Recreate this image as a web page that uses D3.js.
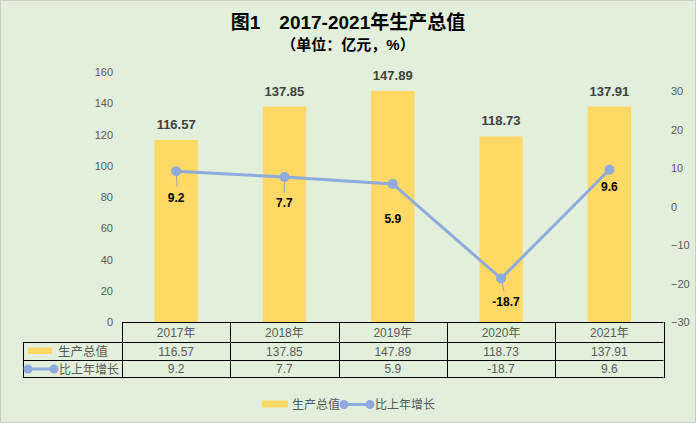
<!DOCTYPE html>
<html>
<head>
<meta charset="utf-8">
<script src="https://cdn.jsdelivr.net/npm/d3@7/dist/d3.min.js"></script>
<style>
  html, body { margin: 0; padding: 0; background: #e2efda; }
  svg { display: block; }
  text { font-family: "Liberation Sans", "Noto Sans CJK SC", sans-serif; }
</style>
</head>
<body>
<svg id="chart" width="696" height="423"></svg>
<script>
// data
var years = [ "2017年", "2018年", "2019年", "2020年", "2021年" ];
var output = [ 116.57, 137.85, 147.89, 118.73, 137.91 ];
var growth = [ 9.2, 7.7, 5.9, -18.7, 9.6 ];
var left_ticks = [ 0, 20, 40, 60, 80, 100, 120, 140, 160 ];
var right_ticks = [ -30, -20, -10, 0, 10, 20, 30 ];
var series_names = [ "生产总值", "比上年增长" ];

var BAR_COLOR = "#ffd966";
var LINE_COLOR = "#8faadc";
var TEXT_COLOR = "#595959";
var CJK = "'Noto Sans CJK SC', sans-serif";

var svg = d3.select( "#chart" );

svg.append( "rect" )
  .attr( "x", 0.5 ).attr( "y", 0.5 )
  .attr( "width", 695 ).attr( "height", 422 )
  .style( "fill", "#e2efda" )
  .style( "stroke", "#c8d0c4" );

var plot = { left: 122, right: 663.5, top: 72, bottom: 322 };

var x = d3.scaleBand()
  .domain( years )
  .range( [ plot.left, plot.right ] )
  .paddingInner( 0.6 )
  .paddingOuter( 0.3 );

var y_left = d3.scaleLinear().domain( [ 0, 160 ] ).range( [ plot.bottom, plot.top ] );
var y_right = d3.scaleLinear().domain( [ -30, 35 ] ).range( [ plot.bottom, plot.top ] );

var cx = function( i ){ return x( years[ i ] ) + x.bandwidth() / 2; };

// title (Latin primary font keeps the text boxes apart, CJK falls back to Noto)
svg.append( "text" )
  .attr( "x", 348 ).attr( "y", 29 )
  .attr( "text-anchor", "middle" )
  .style( "font-family", "'Liberation Sans', 'Noto Sans CJK SC', sans-serif" )
  .style( "font-size", "19px" )
  .style( "font-weight", "bold" )
  .style( "fill", "#000" )
  .text( "图1　2017-2021年生产总值" );

svg.append( "text" )
  .attr( "x", 348 ).attr( "y", 49.5 )
  .attr( "text-anchor", "middle" )
  .style( "font-family", "'Liberation Sans', 'Noto Sans CJK SC', sans-serif" )
  .style( "font-size", "15px" )
  .style( "font-weight", "bold" )
  .style( "fill", "#000" )
  .text( "（单位：亿元，%）" );

// axes
var left_axis = svg.append( "g" )
  .attr( "transform", "translate(" + 116 + ",0)" )
  .call( d3.axisLeft( y_left ).tickValues( left_ticks ).tickSize( 0 ).tickPadding( 3 ) );

var right_axis = svg.append( "g" )
  .attr( "transform", "translate(" + 668 + ",0)" )
  .call( d3.axisRight( y_right ).tickValues( right_ticks ).tickSize( 0 ).tickPadding( 3 ) );

[ left_axis, right_axis ].forEach( function( axis ){
  axis.select( ".domain" ).remove();
  axis.selectAll( "text" )
    .style( "font-family", "'Liberation Sans', sans-serif" )
    .style( "font-size", "11px" )
    .style( "fill", TEXT_COLOR );
} );

// bars
svg.selectAll( "rect.bar" )
  .data( output )
  .enter()
  .append( "rect" )
  .classed( "bar", true )
  .attr( "x", function( d, i ){ return x( years[ i ] ); } )
  .attr( "y", function( d ){ return y_left( d ); } )
  .attr( "width", x.bandwidth() )
  .attr( "height", function( d ){ return y_left( 0 ) - y_left( d ); } )
  .style( "fill", BAR_COLOR );

svg.selectAll( "text.bar-label" )
  .data( output )
  .enter()
  .append( "text" )
  .classed( "bar-label", true )
  .attr( "x", function( d, i ){ return cx( i ); } )
  .attr( "y", function( d ){ return y_left( d ) - 11; } )
  .attr( "text-anchor", "middle" )
  .style( "font-size", "13px" )
  .style( "font-weight", "bold" )
  .style( "fill", "#404040" )
  .text( function( d ){ return d.toFixed( 2 ); } );

// line
var line = d3.line()
  .x( function( d, i ){ return cx( i ); } )
  .y( function( d ){ return y_right( d ); } );

// leader lines for line labels
var leader_len = [ 16, 16, 0, 13, 0 ];

svg.selectAll( "line.leader" )
  .data( growth )
  .enter()
  .append( "line" )
  .classed( "leader", true )
  .attr( "x1", function( d, i ){ return cx( i ); } )
  .attr( "y1", function( d ){ return y_right( d ); } )
  .attr( "x2", function( d, i ){ return cx( i ) + ( i == 0 ? 1 : 0 ) + ( i == 3 ? 3 : 0 ); } )
  .attr( "y2", function( d, i ){ return y_right( d ) + leader_len[ i ]; } )
  .style( "stroke", "#a6a6a6" )
  .style( "stroke-width", 1 );

svg.append( "path" )
  .datum( growth )
  .attr( "d", line )
  .style( "fill", "none" )
  .style( "stroke", LINE_COLOR )
  .style( "stroke-width", 3 );

svg.selectAll( "circle.pt" )
  .data( growth )
  .enter()
  .append( "circle" )
  .classed( "pt", true )
  .attr( "cx", function( d, i ){ return cx( i ); } )
  .attr( "cy", function( d ){ return y_right( d ); } )
  .attr( "r", 5 )
  .style( "fill", LINE_COLOR );

var label_dy = [ 31, 30, 39, 27, 21 ];

svg.selectAll( "text.line-label" )
  .data( growth )
  .enter()
  .append( "text" )
  .classed( "line-label", true )
  .attr( "x", function( d, i ){ return cx( i ) + ( i == 3 ? 5 : 0 ); } )
  .attr( "y", function( d, i ){ return y_right( d ) + label_dy[ i ]; } )
  .attr( "text-anchor", "middle" )
  .style( "font-size", "12px" )
  .style( "font-weight", "bold" )
  .style( "fill", "#000" )
  .text( function( d ){ return d; } );

// data table
var rows = [ 322, 342, 360, 377 ];
var table = svg.append( "g" ).style( "stroke", "#000" ).style( "stroke-width", 1 );

table.append( "line" )
  .attr( "x1", plot.left ).attr( "x2", plot.right )
  .attr( "y1", rows[ 0 ] + 0.5 ).attr( "y2", rows[ 0 ] + 0.5 );

rows.slice( 1 ).forEach( function( ry ){
  table.append( "line" )
    .attr( "x1", 23 ).attr( "x2", plot.right )
    .attr( "y1", ry + 0.5 ).attr( "y2", ry + 0.5 );
} );

table.append( "line" )
  .attr( "x1", 23.5 ).attr( "x2", 23.5 )
  .attr( "y1", rows[ 1 ] ).attr( "y2", rows[ 3 ] + 1 );

for( var k = 0 ; k <= years.length ; k++ ){
  var bx = Math.round( plot.left + k * x.step() ) + 0.5;
  table.append( "line" )
    .attr( "x1", bx ).attr( "x2", bx )
    .attr( "y1", rows[ 0 ] ).attr( "y2", rows[ 3 ] + 1 );
}

var cell_rows = [
  { y: 337, values: years },
  { y: 356, values: output.map( function( d ){ return d.toFixed( 2 ); } ) },
  { y: 373, values: growth.map( function( d ){ return String( d ); } ) }
];

cell_rows.forEach( function( row ){
  svg.selectAll( null )
    .data( row.values )
    .enter()
    .append( "text" )
    .attr( "x", function( d, i ){ return cx( i ); } )
    .attr( "y", row.y )
    .attr( "text-anchor", "middle" )
    .style( "font-size", "12px" )
    .style( "fill", TEXT_COLOR )
    .text( function( d ){ return d; } );
} );

// table legend keys
svg.append( "rect" )
  .attr( "x", 28 ).attr( "y", 347.5 )
  .attr( "width", 24 ).attr( "height", 6.5 )
  .style( "fill", BAR_COLOR );

svg.append( "text" )
  .attr( "x", 58 ).attr( "y", 356 )
  .style( "font-family", CJK )
  .style( "font-size", "12.5px" )
  .style( "fill", TEXT_COLOR )
  .text( series_names[ 0 ] );

var draw_line_key = function( x1, x2, ky ){
  svg.append( "line" )
    .attr( "x1", x1 ).attr( "x2", x2 )
    .attr( "y1", ky ).attr( "y2", ky )
    .style( "stroke", LINE_COLOR )
    .style( "stroke-width", 3 );
  [ x1, x2 ].forEach( function( px ){
    svg.append( "circle" )
      .attr( "cx", px ).attr( "cy", ky ).attr( "r", 4.5 )
      .style( "fill", LINE_COLOR );
  } );
};

draw_line_key( 28, 54, 369 );

svg.append( "text" )
  .attr( "x", 59 ).attr( "y", 373.5 )
  .style( "font-family", CJK )
  .style( "font-size", "12px" )
  .style( "fill", TEXT_COLOR )
  .text( series_names[ 1 ] );

// bottom legend
svg.append( "rect" )
  .attr( "x", 262 ).attr( "y", 400.5 )
  .attr( "width", 26 ).attr( "height", 7 )
  .style( "fill", BAR_COLOR );

svg.append( "text" )
  .attr( "x", 292 ).attr( "y", 408.5 )
  .style( "font-family", CJK )
  .style( "font-size", "12px" )
  .style( "fill", TEXT_COLOR )
  .text( series_names[ 0 ] );

draw_line_key( 344, 370, 404.5 );

svg.append( "text" )
  .attr( "x", 375 ).attr( "y", 408.5 )
  .style( "font-family", CJK )
  .style( "font-size", "12px" )
  .style( "fill", TEXT_COLOR )
  .text( series_names[ 1 ] );
</script>
</body>
</html>
